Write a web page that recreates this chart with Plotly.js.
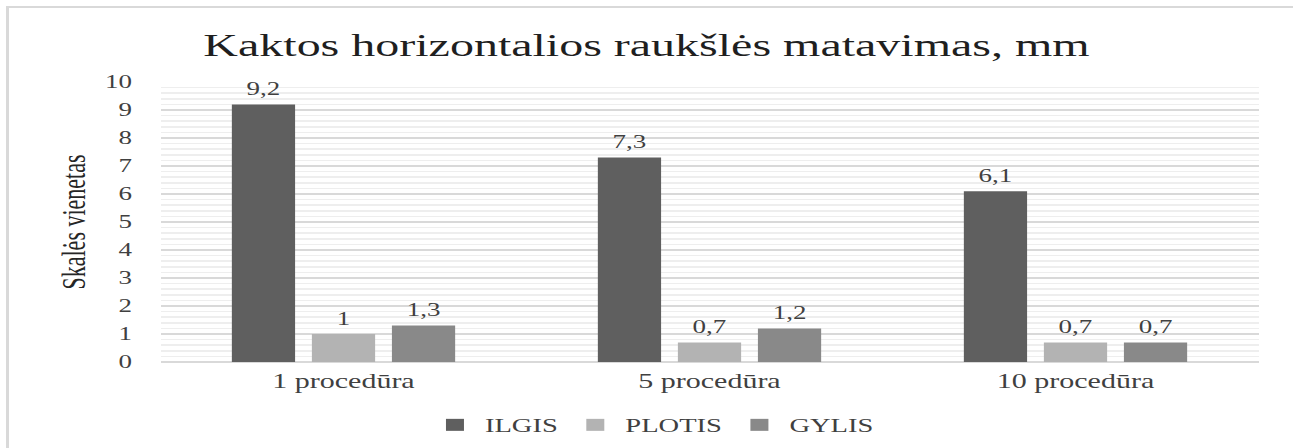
<!DOCTYPE html>
<html>
<head>
<meta charset="utf-8">
<script src="https://cdn.plot.ly/plotly-3.0.1.min.js"></script>
<style>
  html, body { margin: 0; padding: 0; background: #ffffff; overflow: hidden; }
  #wrap { position: absolute; left: 0; top: 0; width: 862px; height: 448px; transform: scaleX(1.5); transform-origin: 0 0; }
  #frame { position: absolute; left: 6px; top: 6px; width: 1320px; height: 470px; border-left: 3px solid #d9d9d9; border-top: 2px solid #d9d9d9; pointer-events: none; z-index: 5; }
</style>
</head>
<body>
<div id="wrap"><div id="chart" style="width:862px;height:448px;"></div></div>
<div id="frame"></div>
<script>
const categories = ['1 procedūra', '5 procedūra', '10 procedūra'];
const seriesNames = ['ILGIS', 'PLOTIS', 'GYLIS'];
const ilgis = [9.2, 7.3, 6.1];
const plotis = [1, 0.7, 0.7];
const gylis = [1.3, 1.2, 0.7];
const yTicks = [0, 1, 2, 3, 4, 5, 6, 7, 8, 9, 10];
const titleText = 'Kaktos horizontalios raukšlės matavimas, mm';
const yTitle = 'Skalės vienetas';

const colors = ['#5f5f5f', '#b3b3b3', '#898989'];
const values = [ilgis, plotis, gylis];
const serif = 'Liberation Serif, Times New Roman, serif';
const fmt = v => String(v).replace('.', ',');
const gap = 0.344;

const bars = values.map((vals, i) => ({
  type: 'bar',
  name: seriesNames[i],
  x: categories,
  y: vals,
  offsetgroup: 'g' + i,
  marker: { color: colors[i], line: { width: 0 } },
  hoverinfo: 'skip'
}));

const labels = values.map((vals, i) => ({
  type: 'scatter',
  mode: 'markers+text',
  x: categories,
  y: vals,
  offsetgroup: 'g' + i,
  text: vals.map(fmt),
  textposition: 'top center',
  textfont: { family: serif, size: 18, color: '#404040' },
  marker: { size: 6, opacity: 0, color: colors[i] },
  cliponaxis: false,
  showlegend: false,
  hoverinfo: 'skip'
}));

const layout = {
  width: 862,
  height: 448,
  margin: { l: 107, r: 23, t: 82, b: 86 },
  paper_bgcolor: 'rgba(0,0,0,0)',
  plot_bgcolor: '#ffffff',
  barmode: 'group',
  scattermode: 'group',
  bargap: gap,
  scattergap: gap,
  bargroupgap: 0.21,
  showlegend: true,
  title: {
    text: titleText,
    font: { family: serif, size: 32, color: '#1f1f1f' },
    x: 0.5, xref: 'container', xanchor: 'center',
    y: 1 - 45 / 448, yref: 'container', yanchor: 'middle'
  },
  xaxis: {
    type: 'category',
    automargin: false,
    showgrid: false,
    showline: false,
    zeroline: false,
    ticks: '',
    ticklabelstandoff: 5,
    tickfont: { family: serif, size: 20, color: '#404040' }
  },
  yaxis: {
    range: [0, 10],
    automargin: false,
    tickvals: yTicks,
    ticktext: yTicks.map(String),
    showgrid: true,
    gridcolor: '#d9d9d9',
    gridwidth: 1.5,
    zeroline: true,
    zerolinecolor: '#d9d9d9',
    zerolinewidth: 2,
    showline: false,
    ticks: '',
    ticklabelstandoff: 18,
    tickfont: { family: serif, size: 18, color: '#404040' },
    minor: { dtick: 0.2, showgrid: true, gridcolor: '#eeeeee', gridwidth: 1.5 },
    title: {
      text: yTitle,
      font: { family: serif, size: 22, color: '#262626' },
      standoff: 6
    }
  },
  legend: {
    orientation: 'h',
    xref: 'container', yref: 'container',
    x: 0.505, xanchor: 'center',
    y: 1 - 425 / 448, yanchor: 'middle',
    font: { family: serif, size: 19, color: '#404040' },
    itemwidth: 30,
    tracegroupgap: 0
  }
};

Plotly.newPlot('chart', bars.concat(labels), layout, { staticPlot: true, displayModeBar: false });
</script>
</body>
</html>
